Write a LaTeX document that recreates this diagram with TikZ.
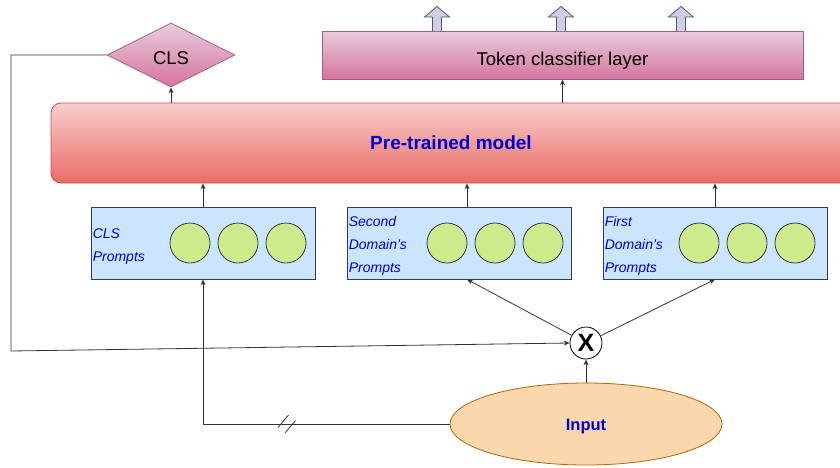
\documentclass[tikz,border=0pt]{standalone}
\usepackage{fontspec}
\setmainfont{Liberation Sans}
\usetikzlibrary{shapes.geometric,arrows.meta,calc}
\definecolor{pinkTop}{HTML}{E8CCDC}
\definecolor{pinkBot}{HTML}{D6749E}
\definecolor{pinkBorder}{HTML}{996185}
\definecolor{redTop}{HTML}{F8CECC}
\definecolor{redBot}{HTML}{EA6B66}
\definecolor{redBorder}{HTML}{B85450}
\definecolor{promptFill}{HTML}{CCE5FF}
\definecolor{darkBorder}{HTML}{36393D}
\definecolor{circFill}{HTML}{CDEB8B}
\definecolor{txtBlue}{HTML}{0000CC}
\definecolor{inFill}{HTML}{FAD7AC}
\definecolor{inBorder}{HTML}{B46504}
\definecolor{blkFill}{HTML}{D0CEE2}
\definecolor{blkBorder}{HTML}{56517E}
\begin{document}
\begin{tikzpicture}[x=1pt,y=-1pt,
  arr/.style={-{Stealth[length=6pt,width=5pt]}, line width=0.8pt, draw=black!80},
  conn/.style={line width=0.8pt, draw=black!80},
  promptbox/.style={draw=darkBorder, fill=promptFill, line width=0.8pt, minimum width=224pt, minimum height=72pt, inner sep=0pt},
  dot/.style={circle, draw=darkBorder, fill=circFill, line width=0.8pt, minimum size=40pt, inner sep=0pt},
  plabel/.style={anchor=west, align=left, inner sep=0pt, text=txtBlue, font=\itshape\fontsize{14}{23}\selectfont},
  blockarrow/.style={fill=blkFill, draw=blkBorder, line width=0.8pt, line join=miter}
]
\useasboundingbox (0,0) rectangle (840,467);

% token classifier layer
\node[draw=pinkBorder, top color=pinkTop, bottom color=pinkBot, line width=0.8pt,
  minimum width=481pt, minimum height=48pt, inner sep=0pt, text height=20pt, text depth=0pt,
  font=\fontsize{18.5}{20}\selectfont] (tok) at (562.5,55) {Token classifier layer};

% CLS diamond
\node[diamond, draw=pinkBorder, top color=pinkTop, bottom color=pinkBot, line width=0.8pt,
  minimum width=128pt, minimum height=64pt, inner sep=0pt, text height=18.6pt, text depth=0pt,
  font=\fontsize{18.5}{20}\selectfont] (cls) at (171,55) {CLS};

% pre-trained model (extends past the right edge)
\node[draw=redBorder, top color=redTop, bottom color=redBot, line width=0.8pt, rounded corners=10pt,
  minimum width=830pt, minimum height=80pt, inner sep=0pt, text=txtBlue,
  font=\bfseries\fontsize{19}{20}\selectfont] (pre) at (466,143) {\hspace*{-30pt}Pre-trained model};

% prompt boxes
\node[promptbox] (p1) at (203,243) {};
\node[promptbox] (p2) at (459,243) {};
\node[promptbox] (p3) at (715,243) {};

\node[plabel] (l1) at ($(p1.west)+(2,3.5)$) {CLS\\Prompts};
\node[plabel] (l2) at ($(p2.west)+(2,3)$) {Second\\Domain{\char39}s\\Prompts};
\node[plabel] (l3) at ($(p3.west)+(2,3)$) {First\\Domain{\char39}s\\Prompts};

\node[dot] (a1) at (190,243) {};
\node[dot] (a2) at (238,243) {};
\node[dot] (a3) at (286,243) {};
\node[dot] (b1) at (447,243) {};
\node[dot] (b2) at (495,243) {};
\node[dot] (b3) at (543,243) {};
\node[dot] (c1) at (699,243) {};
\node[dot] (c2) at (747,243) {};
\node[dot] (c3) at (795,243) {};

% multiply node
\node[circle, draw=black, fill=white, line width=0.8pt, minimum size=32pt, inner sep=0pt,
  font=\bfseries\fontsize{25}{25}\selectfont] (xop) at (586,343) {X};

% input ellipse
\node[ellipse, draw=inBorder, fill=inFill, line width=0.8pt, minimum width=272pt, minimum height=82pt,
  inner sep=0pt, text=txtBlue, text height=12pt, text depth=0pt,
  font=\bfseries\fontsize{16.5}{18}\selectfont] (inp) at (586,424) {Input};

% block arrows above token layer
\foreach \cx in {437,561,681}{
  \draw[blockarrow] (\cx-4.5,31) -- (\cx-4.5,17) -- (\cx-12.5,17) -- (\cx,6.5) -- (\cx+12.5,17) -- (\cx+4.5,17) -- (\cx+4.5,31);
}

% connectors
\draw[arr] (pre.north -| tok.south) -- (tok.south);
\draw[arr] (pre.north -| cls.south) -- (cls.south);
\draw[arr] (p1.north) -- (p1.north |- pre.south);
\draw[arr] ($(p2.north)+(8,0)$) -- ($(p2.north |- pre.south)+(8,0)$);
\draw[arr] (p3.north) -- (p3.north |- pre.south);

\draw[arr] (inp.north) -- (xop.south);
\draw[arr] (xop) -- ($(p2.south)+(8,0)$);
\draw[arr] (xop) -- (p3.south);

\coordinate (k1) at (11,55);
\coordinate (k2) at (11,351);
\draw[arr] (cls.west) -- (k1) -- (k2) -- (xop.west);

\coordinate (k3) at (p1.south |- inp.west);
\draw[arr] (inp.west) -- (k3) -- (p1.south);
\draw[conn] (278,427.5) -- (288.5,415);
\draw[conn] (285,433) -- (295.5,420.5);
\end{tikzpicture}
\end{document}
